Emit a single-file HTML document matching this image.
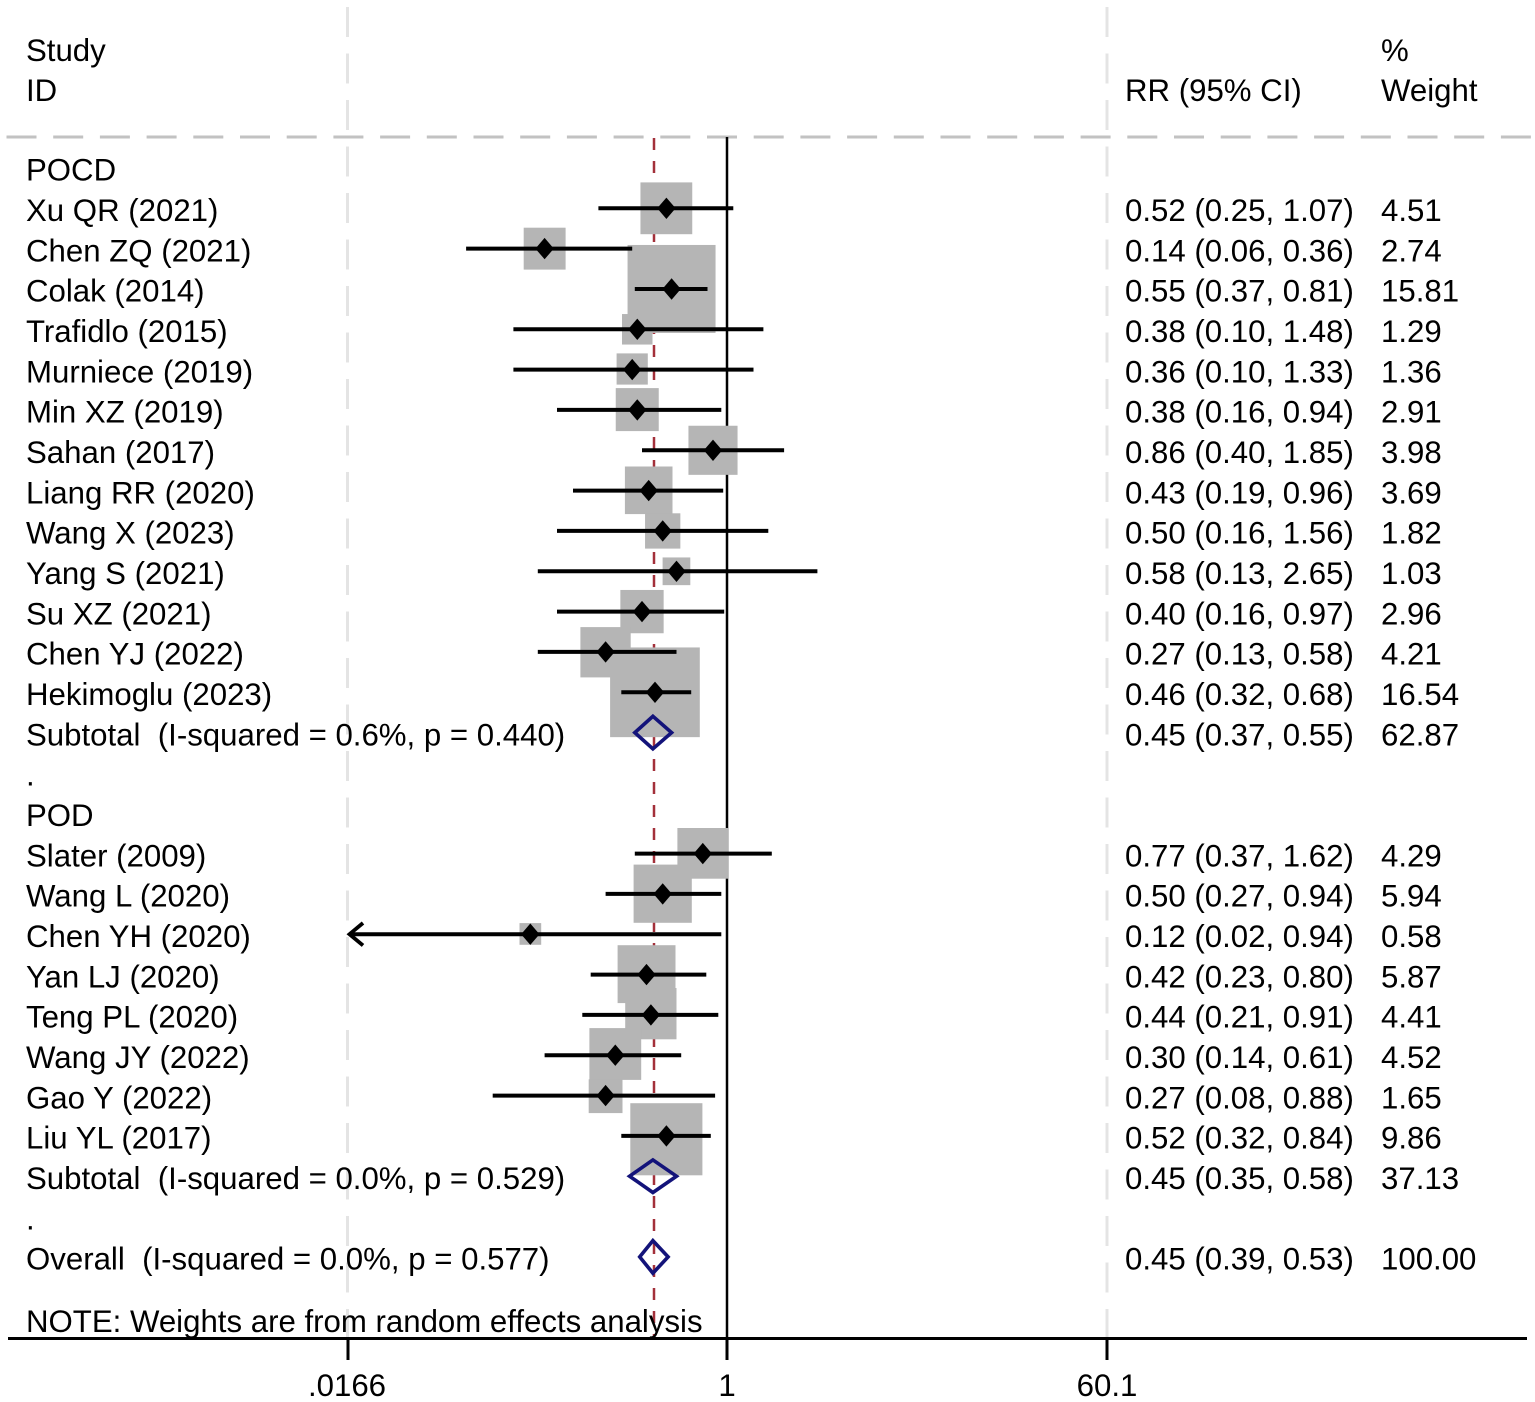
<!DOCTYPE html>
<html>
<head>
<meta charset="utf-8">
<style>
  html, body { margin: 0; padding: 0; background: #ffffff; }
  svg { display: block; }
  text { font-family: "Liberation Sans", Arial, sans-serif; font-size: 31.2px; fill: #000; }
</style>
</head>
<body>
<svg width="1535" height="1402" viewBox="0 0 1535 1402" xmlns="http://www.w3.org/2000/svg">
  <rect x="0" y="0" width="1535" height="1402" fill="#ffffff"/>

  <!-- light gray vertical dashed lines -->
  <line x1="347.5" y1="7" x2="347.5" y2="1338" stroke="#e4e4e4" stroke-width="3" stroke-dasharray="30 16.5"/>
  <line x1="1107" y1="7" x2="1107" y2="1338" stroke="#e4e4e4" stroke-width="3" stroke-dasharray="30 16.5"/>

  <!-- horizontal gray dashed header separator -->
  <line x1="6.5" y1="137" x2="1535" y2="137" stroke="#c2c2c2" stroke-width="3" stroke-dasharray="30 16.7"/>

  <!-- null line -->
  <line x1="727" y1="137" x2="727" y2="1338" stroke="#000" stroke-width="2.5"/>
  <!-- red dashed overall line -->
  <line x1="654" y1="138" x2="654" y2="1338" stroke="#a3303a" stroke-width="2.5" stroke-dasharray="12 11"/>

  <!-- weight boxes -->
  <g fill="#b5b5b5">
    <rect x="640.45" y="182.4" width="51.8" height="51.8"/>
    <rect x="523.7" y="227.7" width="41.9" height="41.9"/>
    <rect x="627.55" y="244.95" width="88" height="88"/>
    <rect x="622" y="314.05" width="30.5" height="30.5"/>
    <rect x="616.6" y="353.4" width="31.2" height="31.2"/>
    <rect x="615.75" y="388.1" width="43" height="43"/>
    <rect x="688.45" y="425.75" width="49.1" height="49.1"/>
    <rect x="624.9" y="466.5" width="47.6" height="47.6"/>
    <rect x="645.05" y="513.3" width="35.3" height="35.3"/>
    <rect x="662.6" y="557.45" width="27.7" height="27.7"/>
    <rect x="620.35" y="589.95" width="43.3" height="43.3"/>
    <rect x="580.4" y="627.1" width="50.3" height="50.3"/>
    <rect x="610.1" y="647.45" width="89.7" height="89.7"/>
    <rect x="677.4" y="828" width="50.7" height="50.7"/>
    <rect x="633.6" y="864.6" width="58.2" height="58.2"/>
    <rect x="519.5" y="923.1" width="21.7" height="21.7"/>
    <rect x="617.6" y="945.2" width="57.9" height="57.9"/>
    <rect x="625.2" y="988" width="51.3" height="51.3"/>
    <rect x="589.4" y="1028.1" width="51.8" height="51.8"/>
    <rect x="588.7" y="1079.3" width="33.8" height="33.8"/>
    <rect x="630.3" y="1103.2" width="72.1" height="72.1"/>
  </g>

  <!-- whiskers -->
  <g stroke="#000" stroke-width="4" fill="none">
    <line x1="598.4" y1="208.3" x2="733.3" y2="208.3"/>
    <line x1="466.1" y1="248.6" x2="632.2" y2="248.6"/>
    <line x1="634.8" y1="289" x2="707.5" y2="289"/>
    <line x1="513.4" y1="329.3" x2="763.4" y2="329.3"/>
    <line x1="513.4" y1="369.6" x2="753.5" y2="369.6"/>
    <line x1="557" y1="409.9" x2="721.3" y2="409.9"/>
    <line x1="642" y1="450.3" x2="784.1" y2="450.3"/>
    <line x1="573" y1="490.6" x2="723.2" y2="490.6"/>
    <line x1="557" y1="530.9" x2="768.3" y2="530.9"/>
    <line x1="537.8" y1="571.3" x2="817.4" y2="571.3"/>
    <line x1="557" y1="611.6" x2="724.2" y2="611.6"/>
    <line x1="537.8" y1="651.9" x2="676.5" y2="651.9"/>
    <line x1="621.3" y1="692.3" x2="691.2" y2="692.3"/>
    <line x1="634.8" y1="853.6" x2="771.8" y2="853.6"/>
    <line x1="605.6" y1="893.9" x2="721.3" y2="893.9"/>
    <line x1="349" y1="934.2" x2="721.3" y2="934.2"/>
    <line x1="590.7" y1="974.6" x2="706.3" y2="974.6"/>
    <line x1="582.3" y1="1014.9" x2="718.3" y2="1014.9"/>
    <line x1="544.6" y1="1055.2" x2="681.2" y2="1055.2"/>
    <line x1="492.7" y1="1095.6" x2="715.1" y2="1095.6"/>
    <line x1="621.3" y1="1135.9" x2="710.8" y2="1135.9"/>
    <polyline points="363,923 349.5,934.2 363,945.4" stroke-width="3.8"/>
  </g>

  <!-- point markers -->
  <g fill="#000">
    <polygon points="666.4,197.6 675.6,208.3 666.4,219 657.2,208.3"/>
    <polygon points="544.6,237.9 553.8,248.6 544.6,259.3 535.4,248.6"/>
    <polygon points="671.6,278.3 680.8,289 671.6,299.7 662.4,289"/>
    <polygon points="637.3,318.6 646.5,329.3 637.3,340 628.1,329.3"/>
    <polygon points="632.2,358.9 641.4,369.6 632.2,380.3 623,369.6"/>
    <polygon points="637.3,399.2 646.5,409.9 637.3,420.6 628.1,409.9"/>
    <polygon points="713,439.6 722.2,450.3 713,461 703.8,450.3"/>
    <polygon points="648.7,479.9 657.9,490.6 648.7,501.3 639.5,490.6"/>
    <polygon points="662.7,520.2 671.9,530.9 662.7,541.6 653.5,530.9"/>
    <polygon points="676.5,560.6 685.7,571.3 676.5,582 667.3,571.3"/>
    <polygon points="642,600.9 651.2,611.6 642,622.3 632.8,611.6"/>
    <polygon points="605.6,641.2 614.8,651.9 605.6,662.6 596.4,651.9"/>
    <polygon points="655,681.6 664.2,692.3 655,703 645.8,692.3"/>
    <polygon points="702.8,842.9 712,853.6 702.8,864.3 693.6,853.6"/>
    <polygon points="662.7,883.2 671.9,893.9 662.7,904.6 653.5,893.9"/>
    <polygon points="530.3,923.5 539.5,934.2 530.3,944.9 521.1,934.2"/>
    <polygon points="646.5,963.9 655.7,974.6 646.5,985.3 637.3,974.6"/>
    <polygon points="650.9,1004.2 660.1,1014.9 650.9,1025.6 641.7,1014.9"/>
    <polygon points="615.3,1044.5 624.5,1055.2 615.3,1065.9 606.1,1055.2"/>
    <polygon points="605.6,1084.9 614.8,1095.6 605.6,1106.3 596.4,1095.6"/>
    <polygon points="666.4,1125.2 675.6,1135.9 666.4,1146.6 657.2,1135.9"/>
  </g>

  <!-- summary diamonds -->
  <g fill="none" stroke="#13137a" stroke-width="3.6" stroke-linejoin="miter">
    <polygon points="634.8,732.6 652.9,716.3 671.6,732.6 652.9,748.9"/>
    <polygon points="629.6,1176.2 652.9,1159.9 676.5,1176.2 652.9,1192.5"/>
    <polygon points="639.7,1256.9 652.9,1240.6 668.1,1256.9 652.9,1273.2"/>
  </g>

  <!-- axis -->
  <line x1="8" y1="1338.5" x2="1527" y2="1338.5" stroke="#000" stroke-width="3"/>
  <g stroke="#000" stroke-width="3">
    <line x1="348" y1="1338" x2="348" y2="1360"/>
    <line x1="727" y1="1338" x2="727" y2="1360"/>
    <line x1="1107" y1="1338" x2="1107" y2="1360"/>
  </g>
  <text x="347" y="1396" text-anchor="middle">.0166</text>
  <text x="727" y="1396" text-anchor="middle">1</text>
  <text x="1107" y="1396" text-anchor="middle">60.1</text>

  <!-- headers -->
  <text x="26" y="61">Study</text>
  <text x="26" y="101">ID</text>
  <text x="1125" y="101">RR (95% CI)</text>
  <text x="1381" y="61">%</text>
  <text x="1381" y="101">Weight</text>

  <!-- left labels -->
  <g>
    <text x="26" y="180.7">POCD</text>
    <text x="26" y="221">Xu QR (2021)</text>
    <text x="26" y="261.3">Chen ZQ (2021)</text>
    <text x="26" y="301.7">Colak (2014)</text>
    <text x="26" y="342">Trafidlo (2015)</text>
    <text x="26" y="382.3">Murniece (2019)</text>
    <text x="26" y="422.7">Min XZ (2019)</text>
    <text x="26" y="463">Sahan (2017)</text>
    <text x="26" y="503.3">Liang RR (2020)</text>
    <text x="26" y="543.6">Wang X (2023)</text>
    <text x="26" y="584">Yang S (2021)</text>
    <text x="26" y="624.3">Su XZ (2021)</text>
    <text x="26" y="664.6">Chen YJ (2022)</text>
    <text x="26" y="705">Hekimoglu (2023)</text>
    <text x="26" y="745.3" xml:space="preserve">Subtotal  (I-squared = 0.6%, p = 0.440)</text>
    <text x="26" y="785.6">.</text>
    <text x="26" y="826">POD</text>
    <text x="26" y="866.3">Slater (2009)</text>
    <text x="26" y="906.6">Wang L (2020)</text>
    <text x="26" y="947">Chen YH (2020)</text>
    <text x="26" y="987.3">Yan LJ (2020)</text>
    <text x="26" y="1027.6">Teng PL (2020)</text>
    <text x="26" y="1068">Wang JY (2022)</text>
    <text x="26" y="1108.3">Gao Y (2022)</text>
    <text x="26" y="1148.6">Liu YL (2017)</text>
    <text x="26" y="1188.9" xml:space="preserve">Subtotal  (I-squared = 0.0%, p = 0.529)</text>
    <text x="26" y="1229.3">.</text>
    <text x="26" y="1269.6" xml:space="preserve">Overall  (I-squared = 0.0%, p = 0.577)</text>
    <text x="26" y="1332">NOTE: Weights are from random effects analysis</text>
  </g>

  <!-- RR column -->
  <g>
    <text x="1125" y="221">0.52 (0.25, 1.07)</text>
    <text x="1125" y="261.3">0.14 (0.06, 0.36)</text>
    <text x="1125" y="301.7">0.55 (0.37, 0.81)</text>
    <text x="1125" y="342">0.38 (0.10, 1.48)</text>
    <text x="1125" y="382.3">0.36 (0.10, 1.33)</text>
    <text x="1125" y="422.7">0.38 (0.16, 0.94)</text>
    <text x="1125" y="463">0.86 (0.40, 1.85)</text>
    <text x="1125" y="503.3">0.43 (0.19, 0.96)</text>
    <text x="1125" y="543.6">0.50 (0.16, 1.56)</text>
    <text x="1125" y="584">0.58 (0.13, 2.65)</text>
    <text x="1125" y="624.3">0.40 (0.16, 0.97)</text>
    <text x="1125" y="664.6">0.27 (0.13, 0.58)</text>
    <text x="1125" y="705">0.46 (0.32, 0.68)</text>
    <text x="1125" y="745.3">0.45 (0.37, 0.55)</text>
    <text x="1125" y="866.3">0.77 (0.37, 1.62)</text>
    <text x="1125" y="906.6">0.50 (0.27, 0.94)</text>
    <text x="1125" y="947">0.12 (0.02, 0.94)</text>
    <text x="1125" y="987.3">0.42 (0.23, 0.80)</text>
    <text x="1125" y="1027.6">0.44 (0.21, 0.91)</text>
    <text x="1125" y="1068">0.30 (0.14, 0.61)</text>
    <text x="1125" y="1108.3">0.27 (0.08, 0.88)</text>
    <text x="1125" y="1148.6">0.52 (0.32, 0.84)</text>
    <text x="1125" y="1188.9">0.45 (0.35, 0.58)</text>
    <text x="1125" y="1269.6">0.45 (0.39, 0.53)</text>
  </g>

  <!-- Weight column -->
  <g>
    <text x="1381" y="221">4.51</text>
    <text x="1381" y="261.3">2.74</text>
    <text x="1381" y="301.7">15.81</text>
    <text x="1381" y="342">1.29</text>
    <text x="1381" y="382.3">1.36</text>
    <text x="1381" y="422.7">2.91</text>
    <text x="1381" y="463">3.98</text>
    <text x="1381" y="503.3">3.69</text>
    <text x="1381" y="543.6">1.82</text>
    <text x="1381" y="584">1.03</text>
    <text x="1381" y="624.3">2.96</text>
    <text x="1381" y="664.6">4.21</text>
    <text x="1381" y="705">16.54</text>
    <text x="1381" y="745.3">62.87</text>
    <text x="1381" y="866.3">4.29</text>
    <text x="1381" y="906.6">5.94</text>
    <text x="1381" y="947">0.58</text>
    <text x="1381" y="987.3">5.87</text>
    <text x="1381" y="1027.6">4.41</text>
    <text x="1381" y="1068">4.52</text>
    <text x="1381" y="1108.3">1.65</text>
    <text x="1381" y="1148.6">9.86</text>
    <text x="1381" y="1188.9">37.13</text>
    <text x="1381" y="1269.6">100.00</text>
  </g>
</svg>
</body>
</html>
